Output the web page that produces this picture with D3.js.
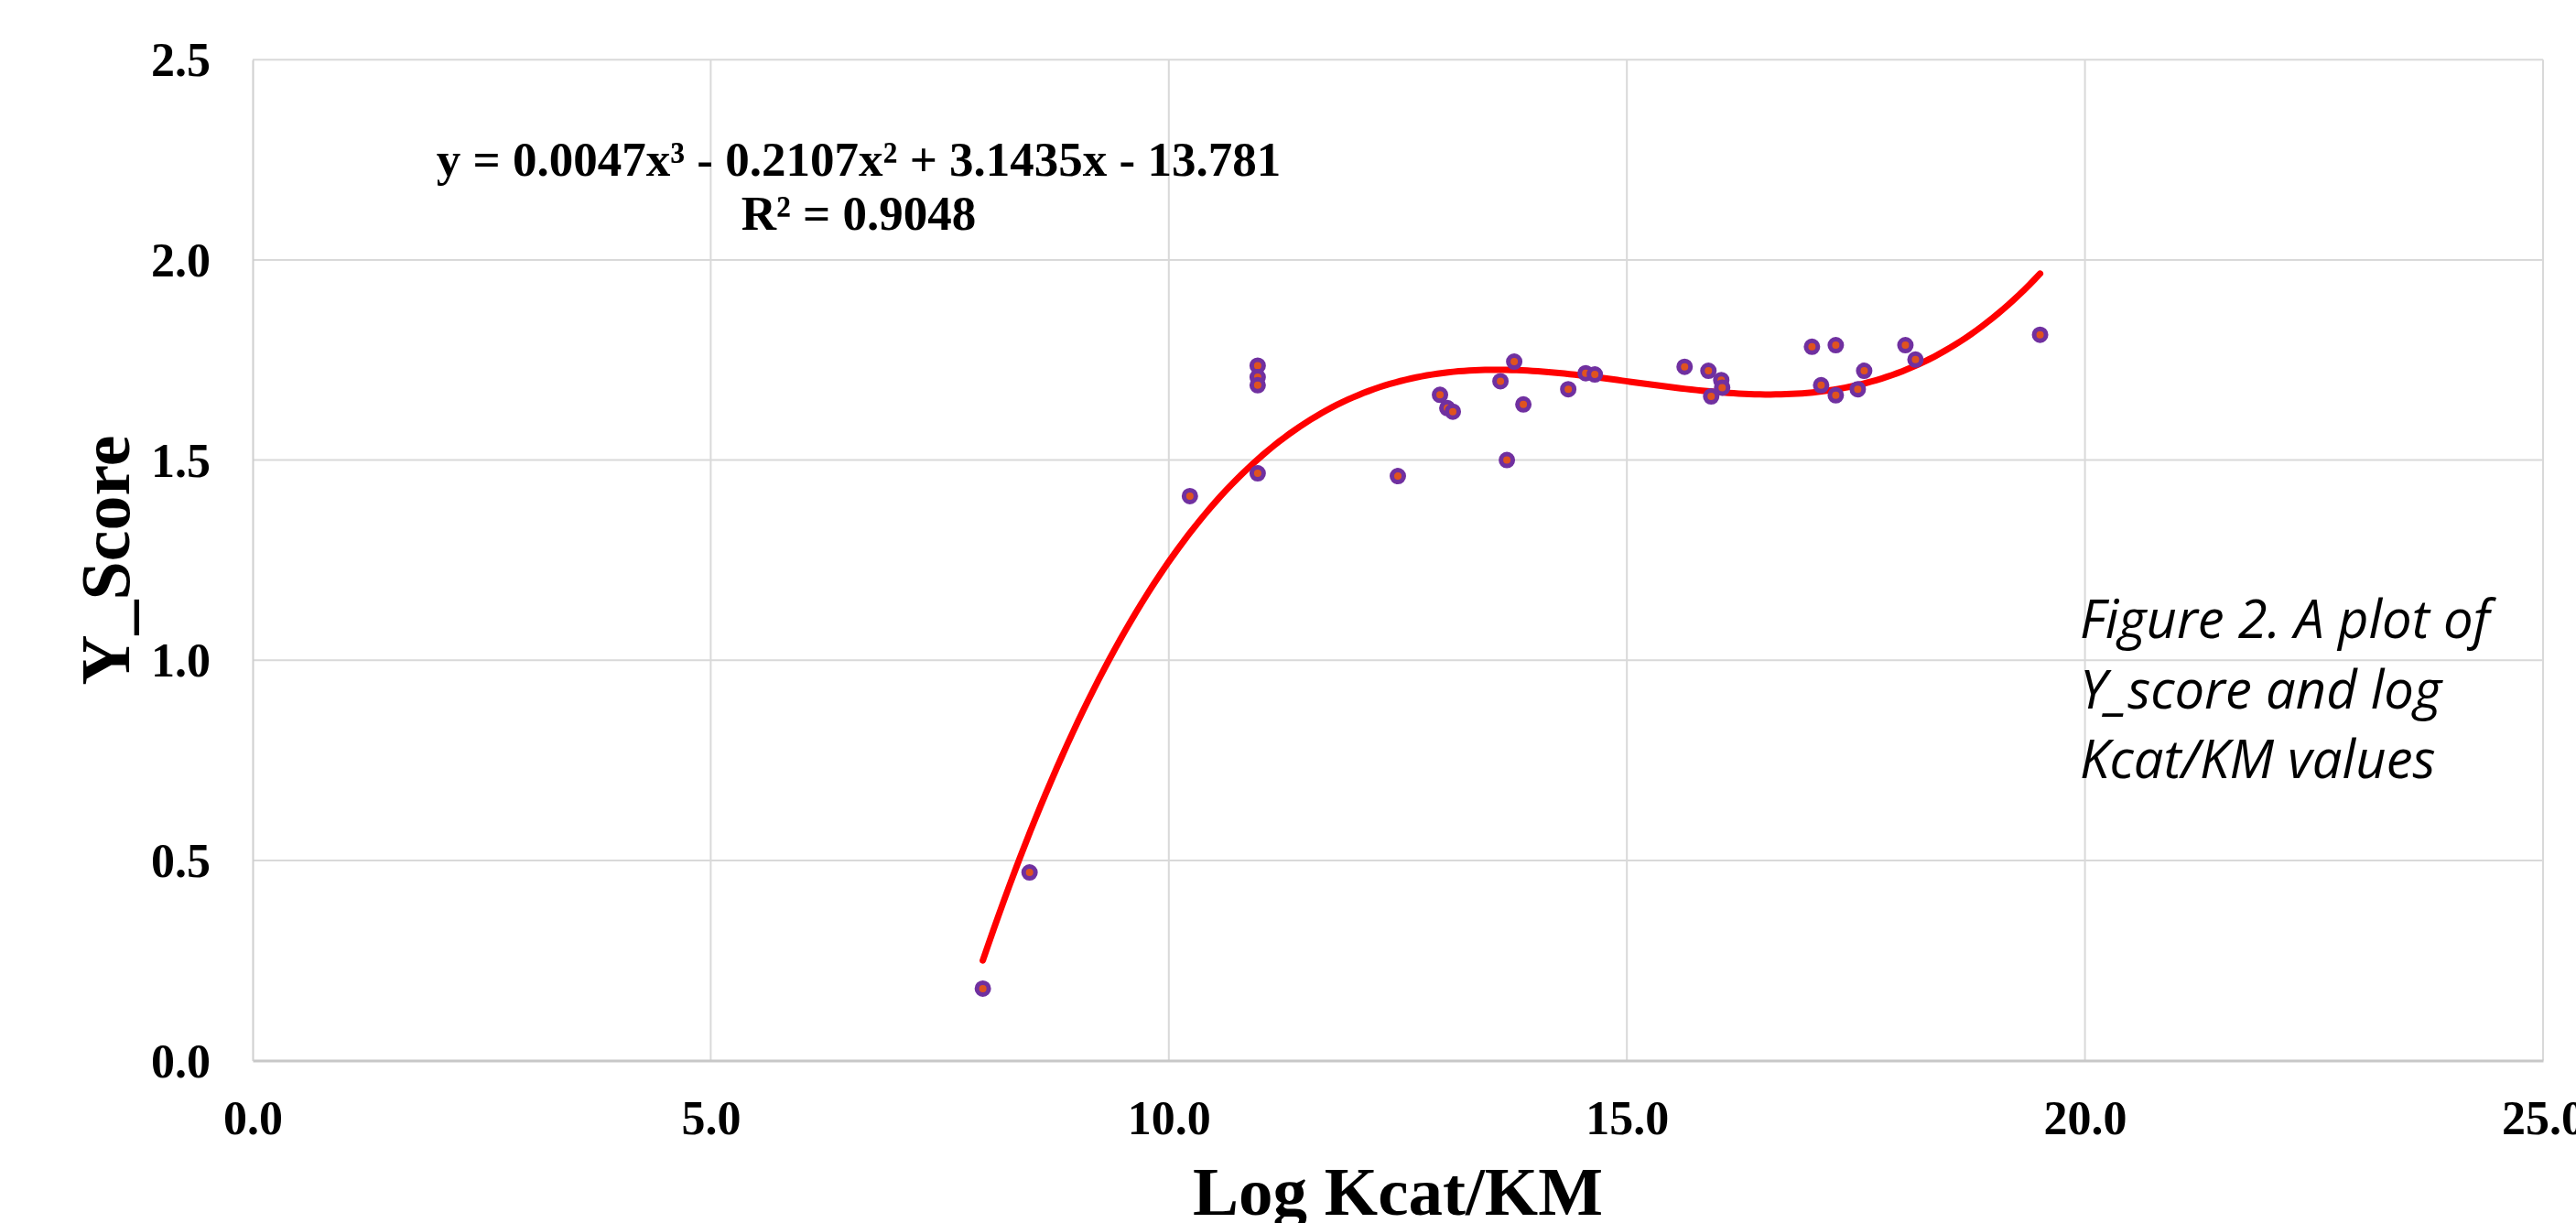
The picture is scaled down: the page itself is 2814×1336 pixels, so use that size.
<!DOCTYPE html>
<html>
<head>
<meta charset="utf-8">
<script src="https://cdn.jsdelivr.net/npm/d3@7"></script>
<style>
  html, body { margin: 0; padding: 0; background: #fff; }
  svg { display: block; }
</style>
</head>
<body>
<svg id="chart" width="2814" height="1336"></svg>
<script>
// ---- data ----
const logKcatKM = [7.97, 8.48, 10.23, 10.97, 10.97, 10.97, 10.97, 12.50, 12.96, 13.04, 13.10,
  13.77, 13.62, 13.87, 13.69, 14.36, 14.55, 14.65, 15.63, 15.89, 16.03, 16.04, 15.92,
  17.02, 17.28, 17.12, 17.28, 17.52, 17.59, 18.04, 18.15, 19.51];
const yScore = [0.18, 0.47, 1.41, 1.736, 1.707, 1.687, 1.467, 1.46, 1.663, 1.63, 1.621,
  1.746, 1.697, 1.639, 1.50, 1.677, 1.717, 1.714, 1.733, 1.723, 1.70, 1.681, 1.659,
  1.783, 1.787, 1.687, 1.662, 1.677, 1.723, 1.787, 1.751, 1.813];
const xTicks = [0, 5, 10, 15, 20, 25];
const yTicks = [0, 0.5, 1.0, 1.5, 2.0, 2.5];
const equationLines = ["y = 0.0047x³ - 0.2107x² + 3.1435x - 13.781", "R² = 0.9048"];
const captionLines = ["Figure 2. A plot of", "Y_score and log", "Kcat/KM values"];
const xTitle = "Log Kcat/KM";
const yTitle = "Y_Score";

// ---- layout ----
const plot = { left: 276, right: 2778, top: 65.3, bottom: 1158.6 };
const svg = d3.select("#chart");
const x = d3.scaleLinear().domain([0, 25]).range([plot.left, plot.right]);
const y = d3.scaleLinear().domain([0, 2.5]).range([plot.bottom, plot.top]);
const serif = "'Liberation Serif', 'Times New Roman', serif";

// gridlines
const grid = svg.append("g");
grid.selectAll("line.v").data(xTicks.slice(1)).join("line")
  .attr("x1", d => x(d)).attr("x2", d => x(d))
  .attr("y1", plot.top).attr("y2", plot.bottom)
  .attr("stroke", "#d9d9d9").attr("stroke-width", 2);
grid.selectAll("line.h").data(yTicks.slice(1)).join("line")
  .attr("x1", plot.left).attr("x2", plot.right)
  .attr("y1", d => y(d)).attr("y2", d => y(d))
  .attr("stroke", "#d9d9d9").attr("stroke-width", 2);

// axes via d3 axis
const xAxis = d3.axisBottom(x).tickValues(xTicks).tickFormat(d3.format(".1f")).tickSize(0).tickPadding(46);
const gx = svg.append("g").attr("transform", `translate(0,${plot.bottom})`).call(xAxis);
gx.select(".domain").attr("stroke", "#c8c8c8").attr("stroke-width", 3);
gx.selectAll("text").attr("font-family", serif).attr("font-weight", "bold")
  .attr("font-size", 52).attr("fill", "#000").attr("dy", "0").attr("y", 80);

const yAxis = d3.axisLeft(y).tickValues(yTicks).tickFormat(d3.format(".1f")).tickSize(0).tickPadding(46);
const gy = svg.append("g").attr("transform", `translate(${plot.left},0)`).call(yAxis);
gy.select(".domain").attr("stroke", "#cfcfcf").attr("stroke-width", 2);
gy.selectAll("text").attr("font-family", serif).attr("font-weight", "bold")
  .attr("font-size", 52).attr("fill", "#000").attr("dy", "0.34em");

// axis titles
svg.append("text").attr("x", (plot.left + plot.right) / 2).attr("y", 1327)
  .attr("text-anchor", "middle").attr("font-family", serif).attr("font-weight", "bold")
  .attr("font-size", 75).text(xTitle);
svg.append("text").attr("transform", `translate(141,${(plot.top + plot.bottom) / 2}) rotate(-90)`)
  .attr("text-anchor", "middle").attr("font-family", serif).attr("font-weight", "bold")
  .attr("font-size", 76).text(yTitle);

// ---- cubic least-squares trendline computed from the data ----
function polyfit(xs, ys, deg) {
  const n = deg + 1;
  const A = Array.from({ length: n }, () => new Array(n + 1).fill(0));
  for (let k = 0; k < xs.length; k++) {
    for (let i = 0; i < n; i++) {
      for (let j = 0; j < n; j++) A[i][j] += Math.pow(xs[k], i + j);
      A[i][n] += ys[k] * Math.pow(xs[k], i);
    }
  }
  for (let i = 0; i < n; i++) {
    let p = i;
    for (let r = i + 1; r < n; r++) if (Math.abs(A[r][i]) > Math.abs(A[p][i])) p = r;
    [A[i], A[p]] = [A[p], A[i]];
    for (let r = 0; r < n; r++) {
      if (r === i) continue;
      const f = A[r][i] / A[i][i];
      for (let c = i; c <= n; c++) A[r][c] -= f * A[i][c];
    }
  }
  return A.map((row, i) => row[n] / row[i]);
}
const coef = polyfit(logKcatKM, yScore, 3);
const fx = v => coef[0] + coef[1] * v + coef[2] * v * v + coef[3] * v * v * v;
const [xmin, xmax] = d3.extent(logKcatKM);
const curvePts = d3.range(0, 201).map(i => {
  const v = xmin + (xmax - xmin) * i / 200;
  return [v, fx(v)];
});
svg.append("path").datum(curvePts)
  .attr("d", d3.line().x(d => x(d[0])).y(d => y(d[1])))
  .attr("fill", "none").attr("stroke", "#ff0000").attr("stroke-width", 7)
  .attr("stroke-linecap", "round").attr("stroke-linejoin", "round");

// ---- markers ----
svg.append("g").selectAll("circle").data(logKcatKM.map((v, i) => [v, yScore[i]])).join("circle")
  .attr("cx", d => x(d[0])).attr("cy", d => y(d[1])).attr("r", 6.5)
  .attr("fill", "#e0531f").attr("stroke", "#7030a0").attr("stroke-width", 5);

// ---- equation label ----
const eq = svg.append("text").attr("text-anchor", "middle").attr("font-family", serif)
  .attr("font-weight", "bold").attr("font-size", 53).attr("fill", "#000");
eq.selectAll("tspan").data(equationLines).join("tspan")
  .attr("x", 938).attr("y", (d, i) => 192 + i * 59).text(d => d);

// ---- caption ----
const cap = svg.append("text").attr("font-family", "'Open Sans', sans-serif")
  .attr("font-style", "italic").attr("font-size", 58).attr("fill", "#000");
cap.selectAll("tspan").data(captionLines).join("tspan")
  .attr("x", 2272).attr("y", (d, i) => 697 + i * 76.5).text(d => d);
</script>
</body>
</html>
